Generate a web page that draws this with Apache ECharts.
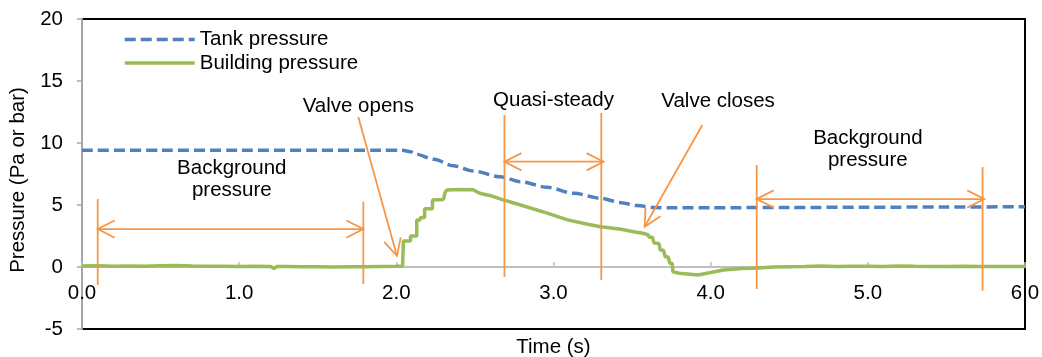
<!DOCTYPE html>
<html>
<head>
<meta charset="utf-8">
<script src="https://cdn.jsdelivr.net/npm/echarts@6/dist/echarts.min.js"></script>
<style>
html,body{margin:0;padding:0;background:#fff;}
#chart{width:1042px;height:357px;}
</style>
</head>
<body>
<div id="chart"></div>
<script>
// ---- data (time in s, pressure in Pa or bar) ----
const seriesNames = ['Tank pressure', 'Building pressure'];

const tankPressure = [
  [0.0, 9.42], [0.5, 9.42], [1.0, 9.42], [1.5, 9.42], [1.9, 9.42], [2.04, 9.42],
  [2.09, 9.3], [2.12, 9.12], [2.24, 8.68], [2.36, 8.17], [2.49, 7.74], [2.66, 7.28],
  [2.79, 6.88], [2.96, 6.43], [3.13, 5.94], [3.30, 5.54], [3.43, 5.19], [3.53, 4.95],
  [3.64, 4.79], [3.75, 4.77], [4.0, 4.78], [4.5, 4.8], [5.0, 4.82], [5.5, 4.84], [6.0, 4.86]
];

const buildingPressure = [
  [0.0, 0.08], [0.1, 0.1], [0.2, 0.07], [0.3, 0.09], [0.4, 0.06], [0.5, 0.1], [0.6, 0.12],
  [0.7, 0.08], [0.8, 0.06], [0.9, 0.07], [1.0, 0.04], [1.1, 0.06], [1.2, 0.05], [1.22, -0.12],
  [1.24, 0.04], [1.3, 0.05], [1.4, 0.03], [1.5, 0.02], [1.6, 0.0], [1.7, 0.02], [1.8, 0.03],
  [1.9, 0.05], [2.0, 0.07], [2.04, 0.08],
  [2.045, 2.1], [2.09, 2.1], [2.09, 2.5], [2.13, 2.5], [2.13, 3.8], [2.15, 3.8], [2.155, 4.0],
  [2.18, 4.0], [2.18, 4.7], [2.23, 4.7], [2.23, 5.4], [2.3, 5.45], [2.31, 6.0], [2.32, 6.2],
  [2.4, 6.25], [2.49, 6.22], [2.53, 5.95], [2.6, 5.75], [2.66, 5.5], [2.79, 5.0], [2.96, 4.35],
  [3.09, 3.8], [3.21, 3.47], [3.30, 3.25], [3.43, 3.04], [3.51, 2.85], [3.57, 2.72],
  [3.6, 2.6], [3.61, 2.4], [3.63, 2.4], [3.64, 1.93], [3.67, 1.9], [3.68, 1.37], [3.7, 1.35],
  [3.71, 0.83], [3.73, 0.8], [3.74, 0.3], [3.755, 0.28], [3.76, -0.38], [3.8, -0.5],
  [3.92, -0.65], [4.0, -0.45], [4.08, -0.24], [4.2, -0.12], [4.3, -0.08], [4.4, 0.0],
  [4.5, 0.03], [4.6, 0.05], [4.7, 0.08], [4.8, 0.05], [4.9, 0.07], [5.0, 0.06], [5.1, 0.05],
  [5.2, 0.08], [5.3, 0.06], [5.4, 0.05], [5.5, 0.04], [5.6, 0.06], [5.7, 0.05], [5.8, 0.04],
  [5.9, 0.05], [6.0, 0.05]
];

// annotation segments: [x1, y1, x2, y2, arrowAtStart, arrowAtEnd]
const annotationSegments = [
  [0.10, 5.48, 0.10, -1.45, 0, 0],
  [1.79, 5.27, 1.79, -1.37, 0, 0],
  [0.10, 3.06, 1.79, 3.06, 1, 1],
  [2.688, 12.26, 2.688, -0.81, 0, 0],
  [3.304, 12.42, 3.304, -1.05, 0, 0],
  [2.688, 8.49, 3.318, 8.49, 1, 1],
  [1.758, 12.1, 2.004, 0.89, 0, 1],
  [3.947, 11.45, 3.58, 3.25, 0, 1],
  [4.293, 8.23, 4.293, -1.77, 0, 0],
  [5.73, 8.06, 5.73, -1.91, 0, 0],
  [4.293, 5.48, 5.74, 5.48, 1, 1]
];

const annotationLabels = ['Background\npressure', 'Valve opens', 'Quasi-steady', 'Valve closes', 'Background\npressure'];
const annotationLabelPos = [[0.953, 7.06], [1.758, 12.98], [3.0, 13.47], [4.047, 13.32], [5.0, 9.48]];

// ---- chart ----
const FONT = 'Liberation Sans, Arial, sans-serif';
const FS = 20.5;
const ORANGE = '#F79646';

const chart = echarts.init(document.getElementById('chart'), null, {renderer: 'canvas'});

function renderAnnotation(params, api) {
  const p1 = api.coord([api.value(0), api.value(1)]);
  const p2 = api.coord([api.value(2), api.value(3)]);
  const style = {stroke: ORANGE, lineWidth: 1.8, fill: null};
  const children = [{type: 'line', shape: {x1: p1[0], y1: p1[1], x2: p2[0], y2: p2[1]}, style: style}];
  function head(tip, from) {
    const dx = tip[0] - from[0], dy = tip[1] - from[1];
    const len = Math.hypot(dx, dy);
    const bx = -dx / len, by = -dy / len;
    const L = 19, a = 27 * Math.PI / 180, c = Math.cos(a), s = Math.sin(a);
    const b1 = [tip[0] + L * (bx * c - by * s), tip[1] + L * (bx * s + by * c)];
    const b2 = [tip[0] + L * (bx * c + by * s), tip[1] + L * (-bx * s + by * c)];
    children.push({type: 'polyline', shape: {points: [b1, tip, b2]}, style: style});
  }
  if (api.value(4)) head(p1, p2);
  if (api.value(5)) head(p2, p1);
  return {type: 'group', children: children};
}

function renderLabel(params, api) {
  const p = api.coord([api.value(0), api.value(1)]);
  return {
    type: 'text', x: p[0], y: p[1],
    style: {
      text: annotationLabels[params.dataIndex], fill: '#000',
      fontSize: FS, fontFamily: FONT, align: 'center', verticalAlign: 'middle', lineHeight: 21.5
    }
  };
}

chart.setOption({
  animation: false,
  textStyle: {fontFamily: FONT},
  grid: {left: 82, right: 17, top: 19, bottom: 28, containLabel: false, outerBoundsMode: 'none',
    show: true, borderColor: '#000', borderWidth: 2, backgroundColor: 'transparent'},
  legend: {
    orient: 'vertical', left: 123, top: 29, padding: 0, itemGap: 2.5,
    itemWidth: 70, itemHeight: 10,
    data: seriesNames,
    textStyle: {fontSize: FS, color: '#000', fontFamily: FONT},
    lineStyle: {width: 3.5},
    itemStyle: {opacity: 0}
  },
  xAxis: {
    type: 'value', min: 0, max: 6, interval: 1,
    name: 'Time (s)', nameLocation: 'middle', nameGap: 8,
    nameTextStyle: {fontSize: FS, color: '#000', fontFamily: FONT},
    axisLine: {onZero: true, lineStyle: {color: '#BFBFBF', width: 2}},
    axisTick: {show: true, inside: true, length: 5, lineStyle: {color: '#BFBFBF', width: 1.5}},
    axisLabel: {fontSize: FS, color: '#000', margin: -46, formatter: v => v.toFixed(1), showMinLabel: true, showMaxLabel: true},
    splitLine: {show: false}
  },
  yAxis: {
    type: 'value', min: -5, max: 20, interval: 5,
    name: 'Pressure (Pa or bar)', nameLocation: 'middle', nameGap: 51,
    nameTextStyle: {fontSize: FS, color: '#000', fontFamily: FONT, padding: [0, 12, 0, 0]},
    axisLine: {show: true, lineStyle: {color: '#A6A6A6', width: 2}},
    axisTick: {show: true, length: 5, lineStyle: {color: '#A6A6A6', width: 1.5}},
    axisLabel: {fontSize: FS, color: '#000', margin: 19},
    splitLine: {show: false}
  },
  series: [
    {
      name: seriesNames[0], type: 'line', data: tankPressure, symbol: 'none', showSymbol: false,
      smooth: 0.3, smoothMonotone: 'x',
      lineStyle: {color: '#4F81BD', width: 3.5, type: [11, 5]},
      itemStyle: {color: '#4F81BD'}, z: 2
    },
    {
      name: seriesNames[1], type: 'line', data: buildingPressure, symbol: 'none', showSymbol: false,
      lineStyle: {color: '#9BBB59', width: 3.5},
      itemStyle: {color: '#9BBB59'}, z: 3
    },
    {
      type: 'custom', coordinateSystem: 'cartesian2d', data: annotationSegments,
      renderItem: renderAnnotation, z: 5, silent: true,
      encode: {x: [0, 2], y: [1, 3]}
    },
    {
      type: 'custom', coordinateSystem: 'cartesian2d', data: annotationLabelPos,
      renderItem: renderLabel, z: 6, silent: true,
      encode: {x: 0, y: 1}
    }
  ]
});
</script>
</body>
</html>
